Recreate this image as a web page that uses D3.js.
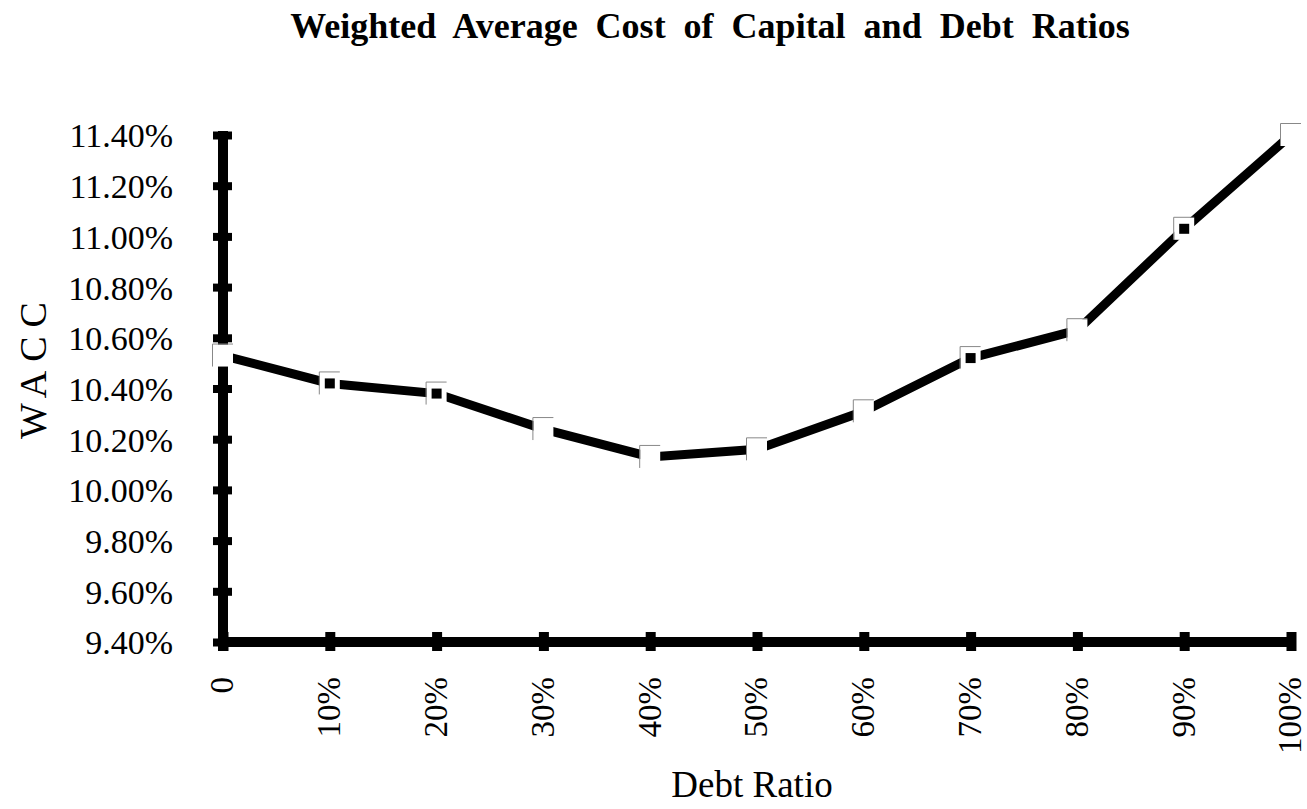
<!DOCTYPE html>
<html>
<head>
<meta charset="utf-8">
<script src="https://cdnjs.cloudflare.com/ajax/libs/d3/7.8.5/d3.min.js"></script>
<style>
  html, body { margin: 0; padding: 0; background: #fff; }
  svg { display: block; }
  text { font-family: "Liberation Serif", "Times New Roman", serif; fill: #000; }
</style>
</head>
<body>
<svg id="chart" width="1307" height="809"></svg>
<script>
// ---- data ----
const categories = ["0", "10%", "20%", "30%", "40%", "50%", "60%", "70%", "80%", "90%", "100%"];
const wacc = [10.53, 10.42, 10.38, 10.24, 10.13, 10.16, 10.31, 10.52, 10.63, 11.03, 11.40];
const dotted = [false, true, true, false, false, false, false, true, false, true, false];
const yTicks = [9.4, 9.6, 9.8, 10.0, 10.2, 10.4, 10.6, 10.8, 11.0, 11.2, 11.4];
const titleText = "Weighted Average Cost of Capital and Debt Ratios";
const xTitle = "Debt Ratio";
const yTitle = "WACC";

const svg = d3.select("#chart");

const x = d3.scalePoint().domain(categories).range([223, 1291]);
const y = d3.scaleLinear().domain([9.4, 11.4]).range([642, 135]);

// title
svg.append("text")
  .attr("x", 710).attr("y", 38)
  .attr("text-anchor", "middle")
  .style("font-size", "36px").style("font-weight", "bold")
  .style("word-spacing", "9px")
  .text(titleText);

// y axis
const yAxis = d3.axisLeft(y).tickValues(yTicks).tickSize(0).tickPadding(0)
  .tickFormat(d => d3.format(".2f")(d) + "%");
const gy = svg.append("g").attr("transform", "translate(223,0)").call(yAxis);
gy.select(".domain").remove();
gy.selectAll(".tick text")
  .attr("x", -50).attr("dy", "0.35em")
  .style("font-size", "34px")
  .style("font-family", "'Liberation Serif', serif");
gy.selectAll(".tick").append("rect")
  .attr("x", -10).attr("y", -4).attr("width", 19).attr("height", 8).attr("fill", "#000");
svg.append("rect").attr("x", 218).attr("y", 131).attr("width", 10).attr("height", 520).attr("fill", "#000");

// x axis
const xAxis = d3.axisBottom(x).tickSize(0).tickPadding(0);
const gx = svg.append("g").attr("transform", "translate(0,642)").call(xAxis);
gx.select(".domain").remove();
gx.selectAll(".tick text")
  .attr("transform", "rotate(-90)")
  .attr("x", -35).attr("y", 0).attr("dy", "0.3em")
  .attr("text-anchor", "end")
  .style("font-size", "33px")
  .style("font-family", "'Liberation Serif', serif");
gx.selectAll(".tick").append("rect")
  .attr("x", -5).attr("y", -10).attr("width", 10).attr("height", 19).attr("fill", "#000");
svg.append("rect").attr("x", 218).attr("y", 637).attr("width", 1078).attr("height", 10).attr("fill", "#000");

// axis titles
svg.append("text")
  .attr("x", 752).attr("y", 797)
  .attr("text-anchor", "middle")
  .style("font-size", "37px")
  .text(xTitle);
svg.append("text")
  .attr("transform", "translate(46,366) rotate(-90)")
  .attr("text-anchor", "middle")
  .style("font-size", "38px").style("letter-spacing", "9px")
  .text(yTitle);

// line
const pts = categories.map((c, i) => ({ c, v: wacc[i], dot: dotted[i] }));
svg.append("path")
  .datum(pts)
  .attr("fill", "none").attr("stroke", "#000").attr("stroke-width", 9)
  .attr("d", d3.line().x(d => x(d.c)).y(d => y(d.v)));

// markers
const m = svg.append("g").selectAll("g").data(pts).join("g")
  .attr("transform", d => `translate(${x(d.c)},${y(d.v)})`);
m.append("rect").attr("x", -10).attr("y", -11).attr("width", 20).attr("height", 22).attr("fill", "#fff");
m.append("path").attr("d", "M-10.5,11V-11.5H10").attr("fill", "none").attr("stroke", "#888").attr("stroke-width", 1);
m.filter(d => d.dot).append("rect").attr("x", -5).attr("y", -5).attr("width", 10).attr("height", 10).attr("fill", "#000");
</script>
</body>
</html>
